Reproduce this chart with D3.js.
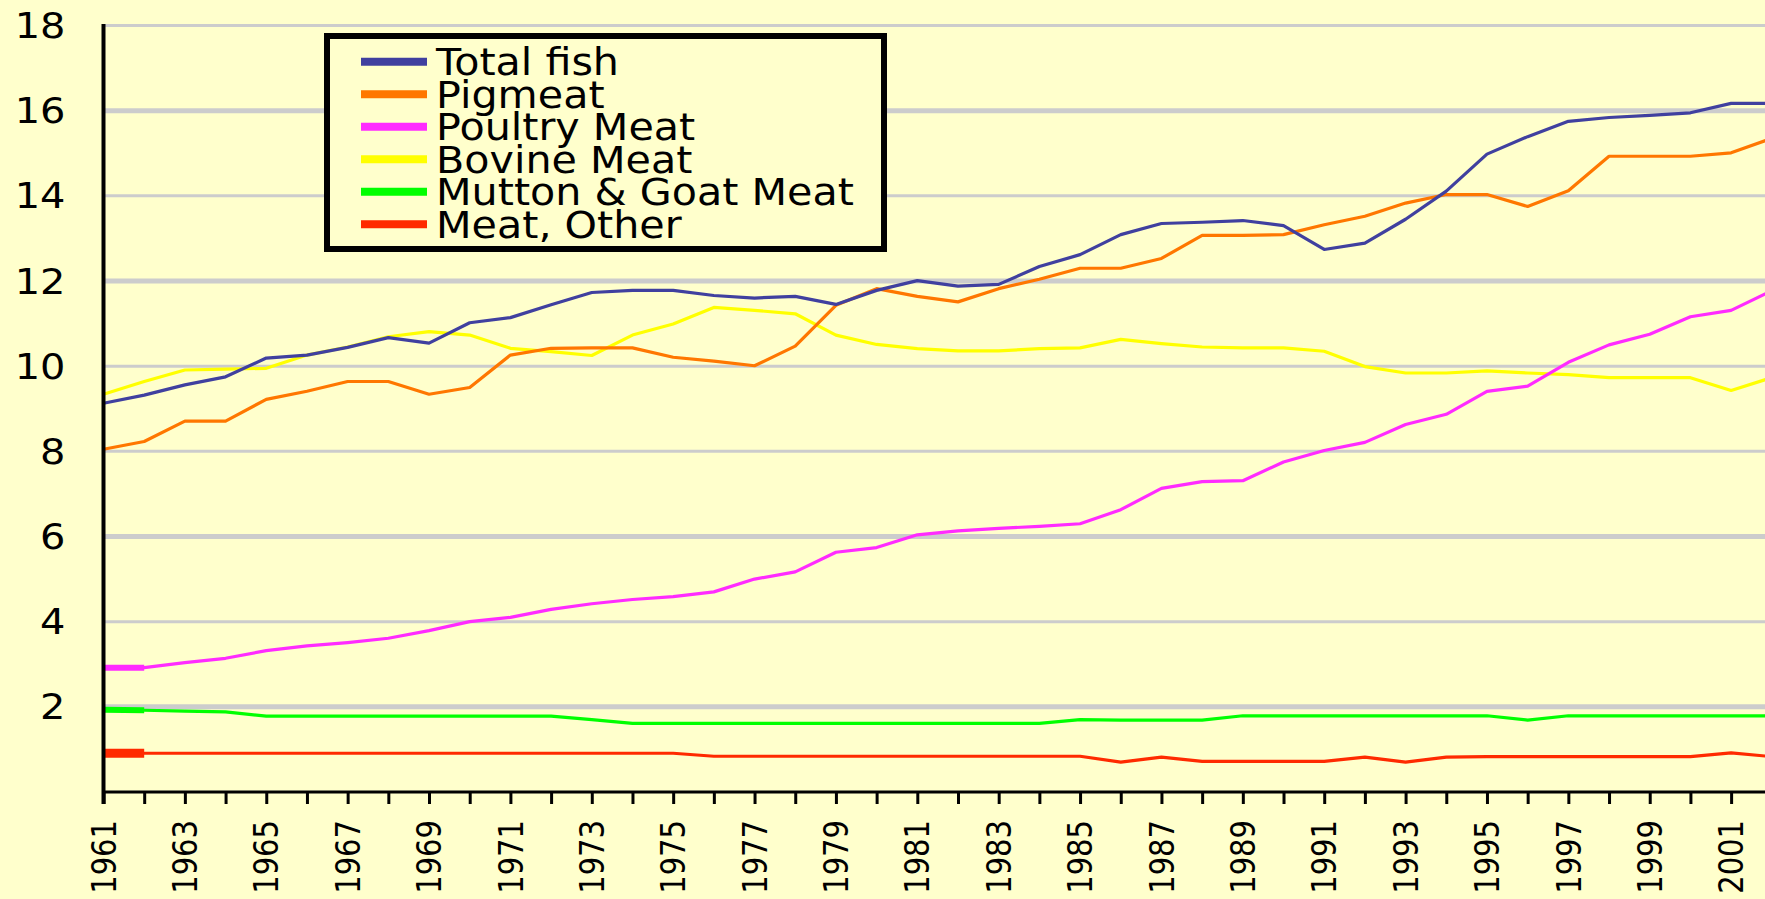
<!DOCTYPE html>
<html>
<head>
<meta charset="utf-8">
<script src="https://cdn.jsdelivr.net/npm/d3@7"></script>
<style>
  html, body { margin: 0; padding: 0; background: #ffffcc; overflow: hidden; }
  text { font-family: "DejaVu Sans", Verdana, sans-serif; fill: #000; }
</style>
</head>
<body>
<div id="chart"></div>
<script>
// data (kg per capita per year)
const years = d3.range(1961, 2003);
const xLabelYears = years.filter((d, i) => i % 2 === 0);
const yTicks = [2, 4, 6, 8, 10, 12, 14, 16, 18];

const seriesNames = ["Total fish", "Pigmeat", "Poultry Meat", "Bovine Meat", "Mutton & Goat Meat", "Meat, Other"];

const totalFish = [9.13, 9.32, 9.56, 9.75, 10.19, 10.26, 10.44, 10.67, 10.54, 11.02,
  11.14, 11.44, 11.73, 11.78, 11.78, 11.66, 11.60, 11.64, 11.45, 11.78,
  12.01, 11.88, 11.92, 12.34, 12.62, 13.09, 13.35, 13.38, 13.42, 13.30,
  12.74, 12.89, 13.45, 14.11, 14.98, 15.39, 15.75, 15.84, 15.89, 15.95,
  16.17, 16.17];
const pigmeat = [8.05, 8.23, 8.71, 8.71, 9.22, 9.41, 9.64, 9.64, 9.34, 9.50,
  10.26, 10.42, 10.43, 10.43, 10.21, 10.12, 10.01, 10.47, 11.43, 11.82,
  11.64, 11.51, 11.82, 12.04, 12.30, 12.30, 12.53, 13.07, 13.07, 13.09,
  13.32, 13.52, 13.83, 14.03, 14.03, 13.75, 14.12, 14.93, 14.93, 14.93,
  15.01, 15.35];
const poultry = [2.92, 2.92, 3.04, 3.14, 3.32, 3.43, 3.51, 3.61, 3.79, 4.00,
  4.10, 4.29, 4.42, 4.52, 4.59, 4.70, 5.00, 5.17, 5.63, 5.74,
  6.04, 6.13, 6.19, 6.24, 6.30, 6.63, 7.13, 7.29, 7.31, 7.75,
  8.02, 8.21, 8.63, 8.87, 9.41, 9.53, 10.09, 10.50, 10.75, 11.16,
  11.31, 11.77];
const bovine = [9.34, 9.64, 9.91, 9.93, 9.95, 10.26, 10.45, 10.69, 10.81, 10.73,
  10.42, 10.34, 10.25, 10.73, 10.99, 11.38, 11.31, 11.23, 10.73, 10.51,
  10.41, 10.36, 10.36, 10.41, 10.43, 10.63, 10.53, 10.45, 10.43, 10.43,
  10.35, 9.99, 9.84, 9.84, 9.89, 9.84, 9.80, 9.73, 9.73, 9.73,
  9.43, 9.73];
const mutton = [1.93, 1.92, 1.90, 1.88, 1.78, 1.78, 1.78, 1.78, 1.78, 1.78,
  1.78, 1.78, 1.70, 1.61, 1.61, 1.61, 1.61, 1.61, 1.61, 1.61,
  1.61, 1.61, 1.61, 1.61, 1.70, 1.69, 1.69, 1.69, 1.79, 1.79,
  1.79, 1.79, 1.79, 1.79, 1.79, 1.69, 1.79, 1.79, 1.79, 1.79,
  1.79, 1.79];
const meatOther = [0.91, 0.91, 0.91, 0.91, 0.91, 0.91, 0.91, 0.91, 0.91, 0.91,
  0.91, 0.91, 0.91, 0.91, 0.91, 0.84, 0.84, 0.84, 0.84, 0.84,
  0.84, 0.84, 0.84, 0.84, 0.84, 0.70, 0.82, 0.72, 0.72, 0.72,
  0.72, 0.82, 0.70, 0.82, 0.83, 0.83, 0.83, 0.83, 0.83, 0.83,
  0.92, 0.83];

const seriesValues = [totalFish, pigmeat, poultry, bovine, mutton, meatOther];
const seriesColors = ["#40409f", "#ff7700", "#ff2bff", "#ffff00", "#00ff00", "#ff2a00"];
const firstSegWidth = [0, 0, 6, 0, 6, 9];   // the original draws a heavier first segment on these
const thickGrid = [2, 6, 12, 16];

const W = 1765, H = 899;
const stretch = 1.14; // the source image is a little wider than tall

const svg = d3.select("#chart").append("svg")
  .attr("width", W)
  .attr("height", H);

svg.append("rect").attr("width", W).attr("height", H).attr("fill", "#ffffcc");

const x = d3.scaleLinear().domain([1961, 2002]).range([103.5, 1771.8]);
const y = d3.scaleLinear().domain([0, 18]).range([792, 25.5]);

// horizontal grid
svg.append("g").attr("class", "grid")
  .selectAll("line")
  .data(yTicks)
  .enter()
  .append("line")
  .attr("x1", x(1961))
  .attr("x2", W)
  .attr("y1", d => y(d))
  .attr("y2", d => y(d))
  .attr("stroke", "#cccccc")
  .attr("stroke-width", d => thickGrid.includes(d) ? 5 : 3);

// y labels
const yAxis = svg.append("g")
  .attr("transform", `translate(${x(1961)},0)`)
  .call(d3.axisLeft(y).tickValues(yTicks).tickSize(0).tickFormat(d3.format("d")));
yAxis.select(".domain").remove();
yAxis.selectAll(".tick text")
  .attr("x", 0)
  .attr("dy", null)
  .attr("dominant-baseline", "central")
  .attr("text-anchor", "end")
  .attr("transform", `translate(-38,0) scale(${stretch},1)`)
  .style("font-size", "35px")
  .style("font-family", '"DejaVu Sans", Verdana, sans-serif');

// lines
const line = d3.line()
  .x((d, i) => x(years[i]))
  .y(d => y(d));

const order = [5, 4, 3, 2, 1, 0];
const lines = svg.append("g").attr("class", "lines");
order.forEach(k => {
  lines.append("path")
    .datum(seriesValues[k])
    .attr("fill", "none")
    .attr("stroke", seriesColors[k])
    .attr("stroke-width", 3.2)
    .attr("stroke-linejoin", "round")
    .attr("d", line);
  if (firstSegWidth[k]) {
    lines.append("path")
      .datum(seriesValues[k].slice(0, 2))
      .attr("fill", "none")
      .attr("stroke", seriesColors[k])
      .attr("stroke-width", firstSegWidth[k])
      .attr("d", line);
  }
});

// x axis
const xAxis = svg.append("g")
  .attr("transform", `translate(0,${y(0)})`)
  .call(d3.axisBottom(x)
    .tickValues(years)
    .tickSize(12)
    .tickSizeOuter(0)
    .tickFormat(d => xLabelYears.includes(d) ? String(d) : ""));
xAxis.select(".domain")
  .attr("stroke", "#000")
  .attr("stroke-width", 3)
  .attr("d", `M${x(1961)},0H${W}`);
xAxis.selectAll(".tick line")
  .attr("stroke", "#000")
  .attr("stroke-width", 3);
xAxis.selectAll(".tick text")
  .attr("x", 0)
  .attr("y", 0)
  .attr("dy", null)
  .attr("dominant-baseline", "central")
  .attr("text-anchor", "end")
  .attr("transform", `translate(0,28) scale(${stretch},1) rotate(-90)`)
  .style("font-size", "29px")
  .style("font-family", '"DejaVu Sans", Verdana, sans-serif');

// y axis line
svg.append("line")
  .attr("x1", x(1961)).attr("x2", x(1961))
  .attr("y1", y(18) - 1.5).attr("y2", y(0) + 12)
  .attr("stroke", "#000")
  .attr("stroke-width", 4);

// legend
const legend = svg.append("g").attr("class", "legend");
legend.append("rect")
  .attr("x", 327).attr("y", 36)
  .attr("width", 557).attr("height", 213)
  .attr("fill", "#ffffcc")
  .attr("stroke", "#000")
  .attr("stroke-width", 6);

const items = legend.selectAll(".item")
  .data(seriesNames)
  .enter()
  .append("g")
  .attr("class", "item")
  .attr("transform", (d, i) => `translate(0,${61.7 + i * 32.5})`);

items.append("line")
  .attr("x1", 361).attr("x2", 427)
  .attr("y1", 0).attr("y2", 0)
  .attr("stroke", (d, i) => seriesColors[i])
  .attr("stroke-width", 8);

items.append("text")
  .attr("transform", `translate(436,13.3) scale(1.13,1)`)
  .style("font-size", "36.5px")
  .text(d => d);
</script>
</body>
</html>
